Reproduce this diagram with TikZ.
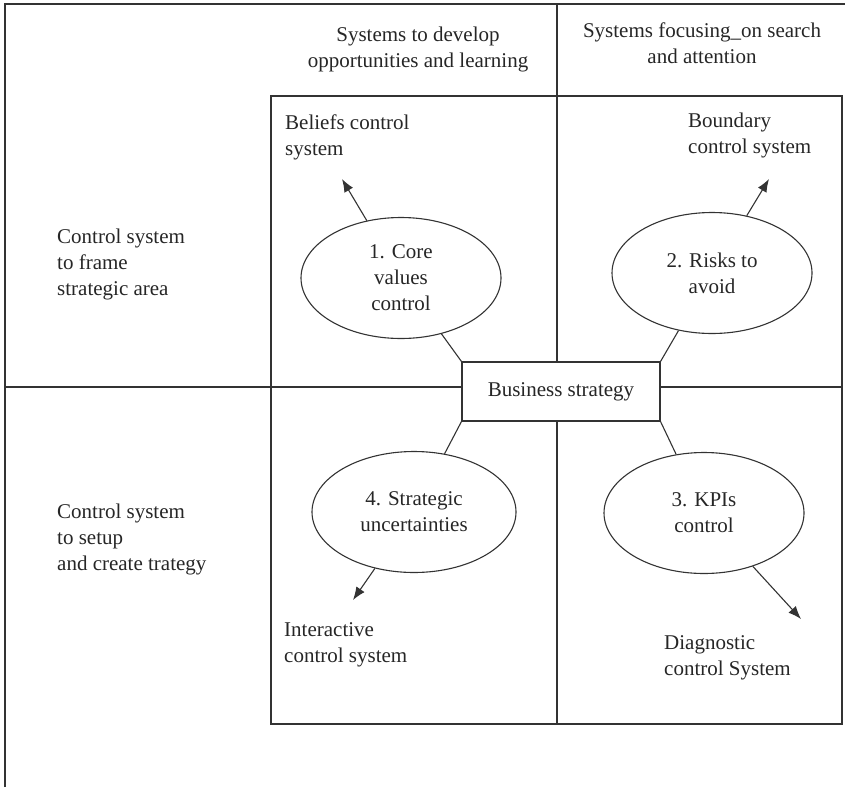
\documentclass[tikz,border=0pt]{standalone}
\usepackage{fontspec}
\setmainfont{Liberation Serif}
\usepackage{tikz}
\usetikzlibrary{shapes.geometric, arrows.meta, positioning}

\begin{document}
\begin{tikzpicture}[
    x=1pt, y=-1pt,
    font=\fontsize{21}{26}\selectfont, text=black!85,
    divider/.style={draw=black!80, line width=1.1pt},
    block/.style={rectangle, draw=black!80, line width=1.1pt, minimum width=198pt, minimum height=59pt, inner sep=0pt},
    oval/.style={ellipse, draw=black!80, line width=1.1pt, minimum width=200pt, minimum height=121pt, inner sep=0pt, align=center},
    note/.style={inner sep=0pt, align=left, anchor=north west},
    head/.style={inner sep=0pt, align=center, anchor=north},
    link/.style={draw=black!80, line width=1.1pt},
    arrow/.style={-{Latex[length=13pt, width=10pt]}, draw=black!80, line width=1.1pt}
]
\useasboundingbox (0,0) rectangle (845,787);
\draw[divider] (5,787) -- (5,4) -- (845,4);
\draw[divider] (557,4) -- (557,96);
\draw[divider] (271,96) rectangle (842,724);

\node[head] (hdevelop) at (418,27) {Systems to develop\\opportunities and learning};
\node[head] (hsearch) at (702,23) {Systems focusing\_on search\\and attention};
\node[note] (frame) at (57,229) {Control system\\to frame\\strategic area};
\node[note] (setup) at (57,504) {Control system\\to setup\\and create trategy};
\node[note] (beliefs) at (285,115) {Beliefs control\\system};
\node[note] (boundary) at (688,113) {Boundary\\control system};
\node[note] (interactive) at (284,622) {Interactive\\control system};
\node[note] (diagnostic) at (664,635) {Diagnostic\\control System};

\node[block, fill=white] (strategy) at (561,391.5) {Business strategy};
\node[oval] (core) at (401,278) {1. Core\\values\\control};
\node[oval] (risks) at (712,273) {2. Risks to\\avoid};
\node[oval] (kpis) at (704,513) {3. KPIs\\control};
\node[oval, minimum width=204pt] (uncert) at (414,512) {4. Strategic\\uncertainties};

\coordinate (beliefstip) at (342,179);
\coordinate (boundarytip) at (769,179);
\coordinate (interactivetip) at (353,600);
\coordinate (diagnostictip) at (801,619);

\draw[divider] (5,387) -- (strategy.west |- 5,387);
\draw[divider] (strategy.east |- 5,387) -- (842,387);
\draw[divider] (557,96) -- (strategy.north -| 557,0);
\draw[divider] (strategy.south -| 557,0) -- (557,724);

\draw[link] (core) -- (strategy.north west);
\draw[link] (risks) -- (strategy.north east);
\draw[link] (uncert) -- (strategy.south west);
\draw[link] (kpis) -- (strategy.south east);

\draw[arrow] (core) -- (beliefstip);
\draw[arrow] (risks) -- (boundarytip);
\draw[arrow] (uncert) -- (interactivetip);
\draw[arrow] (kpis) -- (diagnostictip);
\end{tikzpicture}
\end{document}
